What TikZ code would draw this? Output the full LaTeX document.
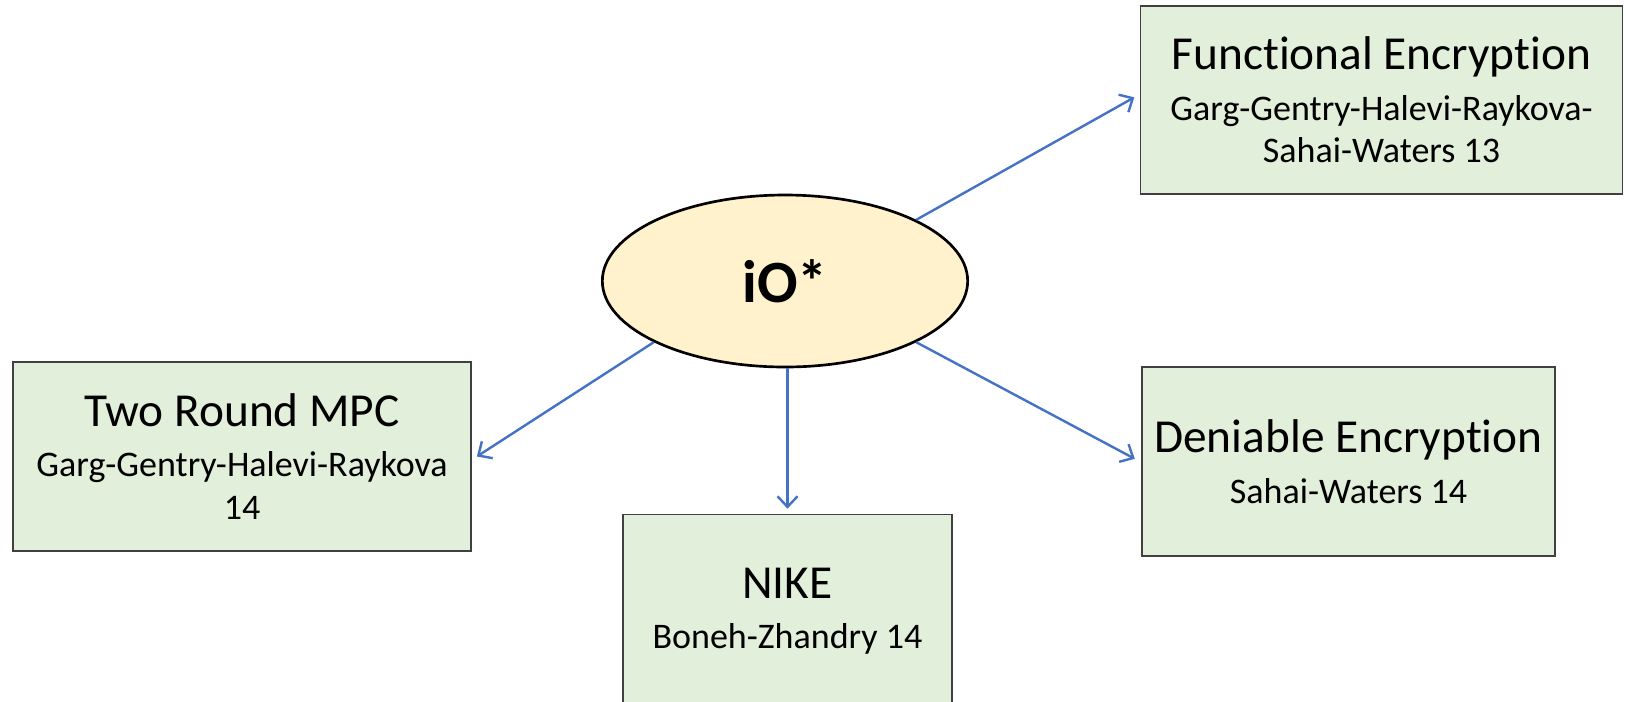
\documentclass[tikz,border=0pt]{standalone}
\usepackage{fontspec}
\setmainfont{Carlito}[Ligatures=NoCommon]
\usetikzlibrary{shapes.geometric,arrows.meta}

\definecolor{boxgreen}{HTML}{E2EFDA}
\definecolor{ovalyellow}{HTML}{FFF2CC}
\definecolor{arrowblue}{HTML}{4472C4}

\newcommand\boxtitle[1]{{\fontsize{35.5}{40}\selectfont #1}}

\tikzset{
  resultbox/.style={draw=black!75, line width=0.8pt, fill=boxgreen,
    align=center, inner sep=0pt, font=\fontsize{27}{32}\selectfont},
  hub/.style={ellipse, draw=black, line width=2pt, fill=ovalyellow,
    inner sep=0pt, minimum width=274pt, minimum height=129pt,
    font=\fontsize{45}{50}\selectfont\bfseries},
  implies/.style={-{Straight Barb[length=8pt,width=15pt]}, draw=arrowblue,
    line width=1.8pt}
}

\begin{document}
\begin{tikzpicture}[x=0.75pt, y=-0.75pt]
  \clip (0,0) rectangle (1626,701);
  \fill[white] (0,0) rectangle (1626,701);

  % central assumption
  \node[hub] (io) at (785,281) {iO*};

  % applications
  \node[resultbox, minimum width=362pt, minimum height=141pt] (fe) at (1381.5,100)
    {\boxtitle{Functional Encryption}\\[6pt]Garg-Gentry-Halevi-Raykova-\\Sahai-Waters 13};
  \node[resultbox, minimum width=343.5pt, minimum height=141.75pt] (mpc) at (242,456.5)
    {\boxtitle{Two Round MPC}\\[6pt]Garg-Gentry-Halevi-Raykova\\14};
  \node[resultbox, minimum width=309.75pt, minimum height=141.75pt] (de) at (1348.5,461.5)
    {\boxtitle{Deniable Encryption}\\[6pt]Sahai-Waters 14};
  \node[resultbox, minimum width=246.75pt, minimum height=150pt, anchor=north] (nike) at (787.5,514)
    {\raisebox{12pt}{\begin{tabular}{@{}c@{}}\boxtitle{NIKE}\\[6pt]Boneh-Zhandry 14\end{tabular}}};

  % implications
  \draw[implies] (io.25) -- ([xshift=-4pt,yshift=2pt]fe.west);
  \draw[implies] (io.-25) -- ([xshift=-5pt,yshift=2pt]de.west);
  \draw[implies] (io.205) -- ([xshift=4pt]mpc.east);
  \draw[implies] (io.south -| nike.north) -- ([yshift=4pt]nike.north);
\end{tikzpicture}
\end{document}
